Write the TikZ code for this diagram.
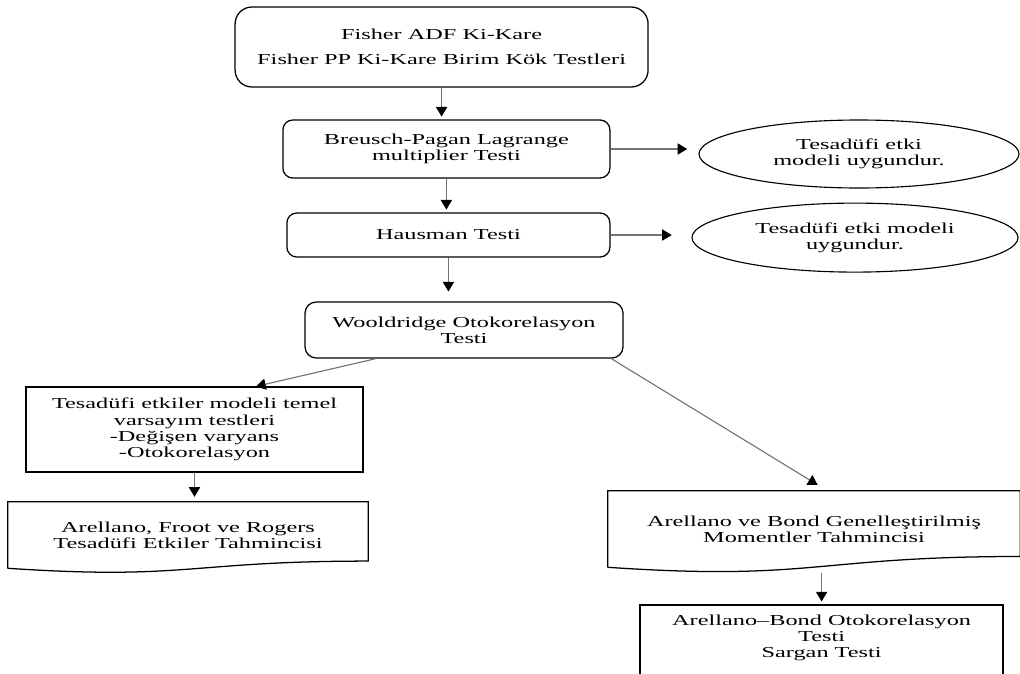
\documentclass[tikz,border=0pt]{standalone}
\usepackage{fontspec}
\setmainfont{Liberation Serif}[FakeStretch=1.6]
\usetikzlibrary{arrows.meta,positioning,shapes.geometric,calc}
\newcommand{\docoutline}[3]{%
  \draw[line width=0.9pt] (#1.south west) -- (#1.north west) -- (#1.north east) -- ($(#1.south east)+(0,#2)$)
    .. controls ($(#1.south east)!0.5!(#1.south west)+(0,#2)$) and ($(#1.south east)!0.5!(#1.south west)+(0,-#3)$) .. (#1.south west);
}
\tikzset{
  txt/.style={font=\fontsize{10.8pt}{11.5pt}\selectfont, align=center, inner sep=0pt},
  roundbox/.style={txt, draw, line width=0.9pt, rounded corners=7pt},
  plainbox/.style={txt, draw, line width=0.9pt},
  docbox/.style={txt},
  oval/.style={txt, ellipse, draw, line width=0.8pt},
  link/.style={-{Triangle[length=2.4mm,width=2.8mm,color=black]}, draw=black!55, line width=0.8pt},
}
\begin{document}
\begin{tikzpicture}
        \useasboundingbox (0,0) rectangle (25.5,-16.825);
        \clip (0,0) rectangle (25.5,-16.825);

        % Draw the main chain of tests
        \node[roundbox, rounded corners=12pt, minimum width=10.325cm, minimum height=2cm] (b1) at (11.04,-1.175)
            {Fisher ADF Ki-Kare\\[6pt]Fisher PP Ki-Kare Birim Kök Testleri};
        \node[roundbox, minimum width=8.175cm, minimum height=1.45cm] (b2) at (11.16,-3.725)
            {Breusch-Pagan Lagrange\\multiplier Testi};
        \node[roundbox, minimum width=8.075cm, minimum height=1.1cm] (b3) at (11.21,-5.875) {Hausman Testi};
        \node[roundbox, rounded corners=8pt, minimum width=7.95cm, minimum height=1.4cm] (b4) at (11.6,-8.25)
            {Wooldridge Otokorelasyon\\Testi};

        % Draw the result ellipses
        \node[oval, minimum width=8cm, minimum height=1.7cm] (e1) at (21.475,-3.85)
            {Tesadüfi etki\\modeli uygundur.};
        \node[oval, minimum width=8.15cm, minimum height=1.725cm] (e2) at (21.375,-5.94)
            {Tesadüfi etki modeli\\uygundur.};

        % Draw the left branch
        \node[plainbox, minimum width=8.425cm, minimum height=2.125cm] (b5) at (4.8625,-10.7375)
            {Tesadüfi etkiler modeli temel\\varsayım testleri\\-Değişen varyans\\-Otokorelasyon};
        \node[docbox, minimum width=9cm, minimum height=1.65cm] (b7) at (4.7,-13.375)
            {Arellano, Froot ve Rogers\\Tesadüfi Etkiler Tahmincisi};
        \docoutline{b7}{0.18}{0.3}

        % Draw the right branch
        \node[docbox, minimum width=10.3cm, minimum height=1.9cm] (b6) at (20.35,-13.225)
            {Arellano ve Bond Genelleştirilmiş\\Momentler Tahmincisi};
        \docoutline{b6}{0.27}{0.35}
        \node[plainbox, minimum width=9.075cm, minimum height=1.875cm, text depth=0.3cm] (b8) at (20.54,-16.06)
            {Arellano--Bond Otokorelasyon\\Testi\\Sargan Testi};

        % Draw the arrows
        \draw[link, shorten >=2pt] (b1.south) -- (b1.south |- b2.north);
        \draw[link, shorten >=2pt] (b2.south) -- (b2.south |- b3.north);
        \draw[link, shorten >=7pt] (b3.south) -- (b3.south |- b4.north);
        \draw[link, shorten >=8pt] (b2.east) -- (b2.east -| e1.west);
        \draw[link, shorten >=14pt] (b3.east) -- (b3.east -| e2.west);
        \draw[link] (b4.198) -- (b5.35);
        \draw[link, shorten >=8pt] (b4.-11) -- (b6.71);
        \draw[link, shorten >=3.5pt] (b5.south) -- (b5.south |- b7.north);
        \draw[link, shorten <=4pt, shorten >=2pt] (b8.north |- b6.south) -- (b8.north);
    \end{tikzpicture}
\end{document}
